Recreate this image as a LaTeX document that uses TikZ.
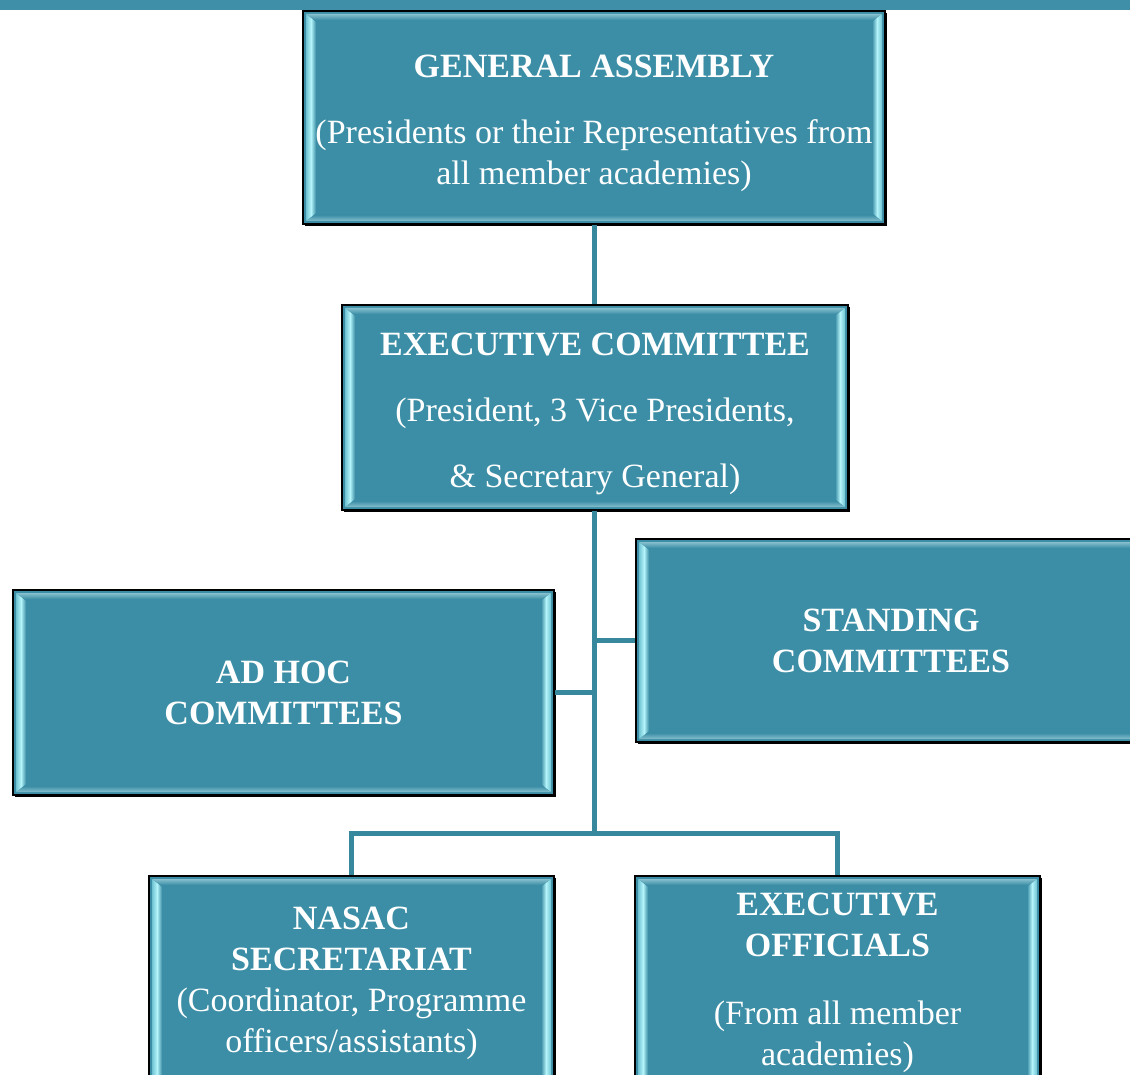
\documentclass[tikz,border=0pt]{standalone}
\usepackage{fontspec}
\setmainfont{Liberation Serif}
\usetikzlibrary{calc,shadows}
\definecolor{boxfill}{HTML}{3B8EA5}
\definecolor{linecol}{HTML}{37879D}
\definecolor{bandcol}{HTML}{3E8FA7}
\definecolor{bevlight}{HTML}{B4F4FA}
\definecolor{bevmid}{HTML}{6FC3D3}
\definecolor{bevtop}{HTML}{86C0CE}
\tikzset{
  orgbox/.style={draw=black, line width=1.6pt, fill=boxfill, text=white,
    align=center, inner sep=0pt,
    font=\fontsize{34}{41}\selectfont,
    drop shadow={shadow xshift=2pt, shadow yshift=-2pt, fill=black, opacity=1},
    path picture={
      \coordinate (pNW) at (path picture bounding box.north west);
      \coordinate (pNE) at (path picture bounding box.north east);
      \coordinate (pSW) at (path picture bounding box.south west);
      \coordinate (pSE) at (path picture bounding box.south east);
      \fill[top color=bevtop, bottom color=boxfill]
        ($(pNW)+(3pt,-3pt)$) -- ($(pNE)+(-3pt,-3pt)$) -- ($(pNE)+(-11pt,-9pt)$) -- ($(pNW)+(11pt,-9pt)$) -- cycle;
      \fill[top color=boxfill, bottom color=bevtop]
        ($(pSW)+(3pt,3pt)$) -- ($(pSE)+(-3pt,3pt)$) -- ($(pSE)+(-11pt,9pt)$) -- ($(pSW)+(11pt,9pt)$) -- cycle;
      \fill[left color=bevmid, right color=boxfill, middle color=bevlight]
        ($(pNW)+(3pt,-3pt)$) -- ($(pNW)+(13pt,-11pt)$) -- ($(pSW)+(13pt,11pt)$) -- ($(pSW)+(3pt,3pt)$) -- cycle;
      \fill[left color=boxfill, right color=bevmid, middle color=bevlight]
        ($(pNE)+(-3pt,-3pt)$) -- ($(pNE)+(-13pt,-11pt)$) -- ($(pSE)+(-13pt,11pt)$) -- ($(pSE)+(-3pt,3pt)$) -- cycle;
    }},
  conn/.style={draw=linecol, line width=5pt}
}
\begin{document}
\begin{tikzpicture}[x=1pt,y=-1pt]
\path[use as bounding box, clip] (0,0) rectangle (1130,1075);
\fill[bandcol] (0,0) rectangle (1130,10);

\node[orgbox, minimum width=582pt, minimum height=213pt] (ga) at (594,117.5)
  {\rule{0pt}{35pt}\textbf{GENERAL ASSEMBLY}\\[25pt](Presidents or their Representatives from\\all member academies)};
\node[orgbox, minimum width=506pt, minimum height=205pt] (ec) at (595,407.5)
  {\rule{0pt}{35pt}\textbf{EXECUTIVE COMMITTEE}\\[25pt](President, 3 Vice Presidents,\\[25pt]\& Secretary General)};
\node[orgbox, minimum width=541pt, minimum height=205pt] (adhoc) at (283.5,692.5)
  {\textbf{AD HOC}\\\textbf{COMMITTEES}};
\node[orgbox, minimum width=510pt, minimum height=203pt] (standing) at (891,640.5)
  {\textbf{STANDING}\\\textbf{COMMITTEES}};
\node[orgbox, minimum width=405pt, minimum height=214pt] (nasac) at (351.5,983)
  {\textbf{NASAC}\\\textbf{SECRETARIAT}\\(Coordinator, Programme\\officers/assistants)};
\node[orgbox, minimum width=405pt, minimum height=214pt] (eo) at (837.5,983)
  {\textbf{EXECUTIVE}\\\textbf{OFFICIALS}\\[27pt](From all member\\academies)};

\coordinate (j) at (594,833);
\draw[conn] (ga.south) -- (ga.south |- ec.north);
\draw[conn] (ga.south |- ec.south) -- (j);
\draw[conn] (adhoc.east) -- (adhoc.east -| j);
\draw[conn] (standing.west) -- (standing.west -| j);
\draw[conn] (nasac.north) -- (nasac.north |- j) -- (eo.north |- j) -- (eo.north);
\end{tikzpicture}
\end{document}
